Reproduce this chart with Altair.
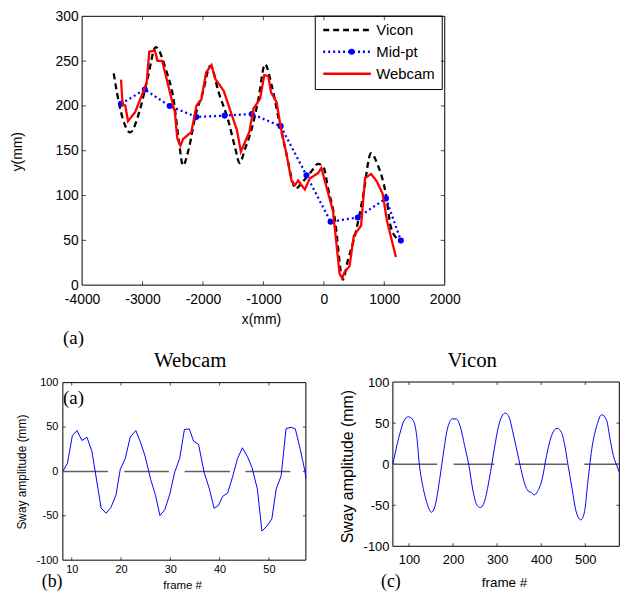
import altair as alt
import pandas as pd

# ---------------- data ----------------
SERIES = ["Vicon", "Mid-pt", "Webcam"]

VICON_X = [-3477, -3356, -3203, -3055, -2918, -2781, -2616, -2479, -2397, -2332, -2233, -2123,
           -2003, -1877, -1740, -1575, -1466, -1395, -1301, -1192, -1082, -973, -863, -726,
           -616, -534, -468, -342, -205, -96, 0, 68, 178, 315, 397, 534, 644, 781, 890,
           1027, 1110, 1219]
VICON_Y = [236.3, 193, 170.4, 193, 230, 265.7, 241, 204, 160, 133.6, 152.7, 189.5,
           215, 244.8, 215, 182, 152.7, 136.2, 152.7, 174.8, 208, 246.6, 222.7, 178.5,
           145.4, 119.6, 107.8, 116, 127, 135.4, 130.7, 108.6, 75.5, 6.3, 27.6, 60.7, 97.5, 147.2, 134.3,
           101.2, 64.4, 51.5]

MID_X = [-3356, -2962, -2551, -2112, -1641, -1192, -715, -288, 112, 562, 1027, 1274]
MID_Y = [202.4, 218.3, 199.9, 187.7, 189.2, 191.0, 177.4, 122.6, 70.7, 75.5, 96.8, 49.7]

WEBCAM_X = [-3356, -3329, -3285, -3241, -3123, -3014, -2932, -2888, -2795, -2753, -2675, -2548,
            -2466, -2425, -2373, -2329, -2192, -2107, -2027, -1948, -1860, -1795, -1658, -1521,
            -1438, -1373, -1233, -1164, -1055, -986, -918, -875, -781, -715, -616, -534,
            -479, -425, -315, -233, -96, -41, 25, 151, 260, 305, 342, 425, 496, 616,
            682, 781, 874, 973, 1044, 1192]
WEBCAM_Y = [229.3, 200.6, 200.6, 183, 193, 211.6, 226, 260.6, 261.7, 250.3, 250.3, 215.3,
            193.2, 164, 155.7, 163, 171, 200.6, 207.2, 237.4, 245.5, 230, 217, 189.5,
            173, 149, 171, 197, 208, 234.4, 233, 215.3, 204, 176.7, 145.4, 116,
            111.5, 116.7, 106.7, 119, 125, 130.7, 114, 82.8, 12.9, 7.4, 14.7, 21.3, 55.2, 66.2,
            119.6, 124, 116, 102, 71.8, 31.3]

TOP_XTICKS = [-4000, -3000, -2000, -1000, 0, 1000, 2000]
TOP_YTICKS = [0, 50, 100, 150, 200, 250, 300]

# Webcam sway (panel b)
WC_FRAME = [8.2, 9.13, 10.13, 11.07, 12.08, 13.08, 14.09, 15.96, 16.97, 17.97, 18.98, 19.85,
            20.85, 21.86, 23.0, 24.0, 24.87, 26.01, 27.02, 27.89, 28.89, 29.9, 30.9, 31.91,
            32.85, 33.85, 34.72, 35.73, 36.87, 37.94, 38.88, 39.75, 40.62, 41.63, 42.63, 43.64,
            44.64, 45.65, 46.58, 47.66, 48.59, 49.6, 50.6, 51.47, 52.48, 53.48, 54.49, 55.36,
            56.36, 57.3, 57.5]
WC_SWAY = [0.2, 9.1, 40.4, 46.0, 34.8, 38.5, 22.9, -41.2, -47.1, -40.4, -26.6, 2.4,
           14.3, 38.5, 46.0, 32.2, 17.3, -8.8, -27.4, -49.7, -43.0, -25.5, -0.6, 14.7,
           47.1, 47.9, 34.1, 30.4, -1.3, -19.9, -41.5, -38.6, -28.1, -24.4, -6.1, 14.7,
           26.6, 16.6, 4.3, -19.9, -67.2, -61.6, -53.4, -19.9, -5.0, 48.2, 49.7, 47.9,
           24.8, 0.6, -8.0]
WC_ZERO_START = [8.2, 20.65, 32.9, 45.24]
WC_ZERO_END = [17.37, 29.7, 42.1, 54.35]
WC_XTICKS = [10, 20, 30, 40, 50]
SWAY_YTICKS = [-100, -50, 0, 50, 100]

# Vicon sway (panel c)
VC_FRAME = [63.5, 76.1, 88.8, 98.6, 109.8, 117.3, 123.3, 132.3, 139.8, 151.1, 158.6, 169.8,
            177.3, 187.1, 198.3, 207.3, 216.3, 226.1, 235.8, 244.9, 253.9, 262.1, 271.1, 282.4,
            293.6, 303.4, 318.4, 327.4, 334.9, 342.4, 352.2, 361.2, 372.4, 378.4, 383.7, 391.2,
            402.5, 412.2, 425.0, 436.2, 446.0, 453.5, 461.0, 470.0, 477.5, 485.0, 490.2, 498.4,
            505.9, 514.9, 526.2, 537.4, 548.7, 556.2, 563.7, 571.2, 577.2]
VC_SWAY = [0.6, 30.8, 52.9, 57.7, 52.9, 34.8, 0.2, -29.6, -45.7, -58.6, -51.7, -17.5,
           10.7, 42.9, 55.1, 55.1, 45.7, 22.7, -1.4, -31.6, -49.7, -52.9, -45.7, -17.5,
           18.7, 46.9, 62.2, 56.9, 40.8, 22.7, -1.4, -21.5, -33.6, -34.4, -37.6, -33.6,
           -17.5, 10.7, 36.8, 43.7, 38.8, 22.7, -1.4, -29.6, -53.7, -65.8, -67.8, -57.7,
           -21.5, 18.7, 46.9, 60.2, 52.9, 30.8, 10.7, -1.4, -9.5]
VC_ZERO_START = [63.5, 201.3, 340.2, 497.7]
VC_ZERO_END = [163.9, 293.6, 458.7, 576.5]
VC_XTICKS = [100, 200, 300, 400, 500]

# ---------------- layout ----------------
W, H = 618, 586
SANS = "Liberation Sans"
SERIF = "Liberation Serif"
LABEL = "'' + datum.value"


def yaxis(vals, off, fs, pad, title, tfs, tx, ty):
    return alt.Axis(orient="left", offset=off, values=vals, domain=False, grid=False,
                    ticks=False, tickSize=0, labelExpr=LABEL, labelFont=SANS,
                    labelFontSize=fs, labelColor="black", labelPadding=pad,
                    labelOverlap=False, labelFlush=False,
                    title=title, titleFont=SANS, titleFontSize=tfs, titleFontWeight="normal",
                    titleColor="black", titleAngle=270, titleAlign="center",
                    titleBaseline="middle", titleX=tx, titleY=ty)


def xaxis(vals, off, fs, pad, title, tfs, tx, ty):
    return alt.Axis(orient="bottom", offset=off, values=vals, domain=False, grid=False,
                    ticks=False, tickSize=0, labelExpr=LABEL, labelFont=SANS,
                    labelFontSize=fs, labelColor="black", labelPadding=pad,
                    labelOverlap=False, labelFlush=False,
                    title=title, titleFont=SANS, titleFontSize=tfs, titleFontWeight="normal",
                    titleColor="black", titleAlign="center",
                    titleBaseline="middle", titleX=tx, titleY=ty)


def frame_and_ticks(xd, yd, xs, ys, xa, ya, xt, yt, L):
    fdf = pd.DataFrame({"x0": [xd[0]], "x1": [xd[1]], "y0": [yd[0]], "y1": [yd[1]]})
    frame = alt.Chart(fdf).mark_rect(fillOpacity=0, stroke="black", strokeWidth=1).encode(
        x=alt.X("x0:Q", scale=xs, axis=xa), x2="x1:Q",
        y=alt.Y("y0:Q", scale=ys, axis=ya), y2="y1:Q")
    xin = [v for v in xt if xd[0] < v < xd[1]]
    yin = [v for v in yt if yd[0] < v < yd[1]]
    layers = [frame]
    for yv, off in ((yd[0], -L / 2), (yd[1], L / 2)):
        d = pd.DataFrame({"x": xin, "y": [yv] * len(xin)})
        layers.append(alt.Chart(d).mark_tick(orient="vertical", size=L, thickness=1,
                                             color="black", yOffset=off).encode(
            x=alt.X("x:Q", scale=xs, axis=xa), y=alt.Y("y:Q", scale=ys, axis=ya)))
    for xv, off in ((xd[0], L / 2), (xd[1], -L / 2)):
        d = pd.DataFrame({"x": [xv] * len(yin), "y": yin})
        layers.append(alt.Chart(d).mark_tick(orient="horizontal", size=L, thickness=1,
                                             color="black", xOffset=off).encode(
            x=alt.X("x:Q", scale=xs, axis=xa), y=alt.Y("y:Q", scale=ys, axis=ya)))
    return layers


# ---------- panel (a) ----------
tx_dom, ty_dom = [-4000, 2000], [0, 300]
txs = alt.Scale(domain=tx_dom, range=[74.7, 440.3], nice=False, zero=False)
tys = alt.Scale(domain=ty_dom, range=[277, 6], nice=False, zero=False)
txa = xaxis(TOP_XTICKS, 277 - H, 14, 8, "x(mm)", 14, 255, 35)
tya = yaxis(TOP_YTICKS, -74.7, 14, 4, "y(mm)", 14, -65, 142)

cscale = alt.Scale(domain=SERIES, range=["black", "blue", "red"])
dscale = alt.Scale(domain=SERIES, range=[[6, 4], [2, 3], [1, 0]])
legend = alt.Legend(orient="none", legendX=309.3, legendY=5.3, title=None,
                    strokeColor="black", padding=7,
                    labelFont=SANS, labelFontSize=15, labelColor="black",
                    symbolType="stroke", symbolSize=2304, symbolStrokeWidth=2.5,
                    labelOffset=4, rowPadding=6, clipHeight=15)
dot_legend = alt.Legend(orient="none", legendX=343.0, legendY=38.2, title=None,
                        padding=0, labelExpr="''", labelFontSize=1, zindex=2,
                        symbolType="circle", symbolSize=38, symbolFillColor="blue",
                        symbolStrokeColor="blue", symbolStrokeWidth=0, symbolOpacity=1)


def series_df(xs, ys, name):
    return pd.DataFrame({"x": xs, "y": ys, "series": [name] * len(xs), "o": list(range(len(xs)))})


def top_line(df, interp, leg):
    return alt.Chart(df).mark_line(strokeWidth=2.3, interpolate=interp).encode(
        x=alt.X("x:Q", scale=txs, axis=txa), y=alt.Y("y:Q", scale=tys, axis=tya),
        order="o:Q",
        color=alt.Color("series:N", scale=cscale, legend=leg),
        strokeDash=alt.StrokeDash("series:N", scale=dscale, legend=leg))


vic_df = series_df(VICON_X, VICON_Y, "Vicon")
mid_df = series_df(MID_X, MID_Y, "Mid-pt")
web_df = series_df(WEBCAM_X, WEBCAM_Y, "Webcam")

vic_line = top_line(vic_df, "monotone", legend)
mid_line = top_line(mid_df, "linear", None)
web_line = top_line(web_df, "linear", None)
mid_pts = alt.Chart(mid_df).mark_point(filled=True, size=38, opacity=1).encode(
    x=alt.X("x:Q", scale=txs, axis=txa), y=alt.Y("y:Q", scale=tys, axis=tya),
    color=alt.Color("series:N", scale=cscale, legend=None),
    shape=alt.Shape("series:N", scale=alt.Scale(domain=["Mid-pt"], range=["circle"]),
                    legend=dot_legend))

panel_a = alt.layer(*frame_and_ticks(tx_dom, ty_dom, txs, tys, txa, tya, TOP_XTICKS, TOP_YTICKS, 4),
                    vic_line, mid_line, mid_pts, web_line)

# ---------- panel (b) ----------
bx_dom, sy_dom = [8.2, 57.5], [-100, 100]
bxs = alt.Scale(domain=bx_dom, range=[55.3, 300.3], nice=False, zero=False)
bys = alt.Scale(domain=sy_dom, range=[554.3, 375.3], nice=False, zero=False)
bxa = xaxis(WC_XTICKS, 554.3 - H, 11, 3, "frame #", 11.5, 175.5, 25.7)
bya = yaxis(SWAY_YTICKS, -55.3, 11, 5, "Sway amplitude (mm)", 12, -41.3, 465)

bzero = pd.DataFrame({"x0": WC_ZERO_START, "x1": WC_ZERO_END, "y": [0] * len(WC_ZERO_START)})
b_zero = alt.Chart(bzero).mark_rule(color="#606060", strokeWidth=1.5).encode(
    x=alt.X("x0:Q", scale=bxs, axis=bxa), x2="x1:Q", y=alt.Y("y:Q", scale=bys, axis=bya))
bdf = pd.DataFrame({"x": WC_FRAME, "y": WC_SWAY, "o": list(range(len(WC_FRAME)))})
b_line = alt.Chart(bdf).mark_line(color="blue", strokeWidth=1).encode(
    x=alt.X("x:Q", scale=bxs, axis=bxa), y=alt.Y("y:Q", scale=bys, axis=bya), order="o:Q")
panel_b = alt.layer(*frame_and_ticks(bx_dom, sy_dom, bxs, bys, bxa, bya, WC_XTICKS, SWAY_YTICKS, 3),
                    b_zero, b_line)

# ---------- panel (c) ----------
cx_dom = [63.3, 577.3]
cxs = alt.Scale(domain=cx_dom, range=[388, 616.3], nice=False, zero=False)
cys = alt.Scale(domain=sy_dom, range=[540.3, 374.7], nice=False, zero=False)
cxa = xaxis(VC_XTICKS, 540.3 - H, 13, 7, "frame #", 13.5, 500, 36.7)
cya = yaxis(SWAY_YTICKS, -388, 13, 4, "Sway amplitude (mm)", 16, -46, 459.5)

czero = pd.DataFrame({"x0": VC_ZERO_START, "x1": VC_ZERO_END, "y": [0] * len(VC_ZERO_START)})
c_zero = alt.Chart(czero).mark_rule(color="#606060", strokeWidth=1.5).encode(
    x=alt.X("x0:Q", scale=cxs, axis=cxa), x2="x1:Q", y=alt.Y("y:Q", scale=cys, axis=cya))
cdf = pd.DataFrame({"x": VC_FRAME, "y": VC_SWAY, "o": list(range(len(VC_FRAME)))})
c_line = alt.Chart(cdf).mark_line(color="blue", strokeWidth=1, interpolate="monotone").encode(
    x=alt.X("x:Q", scale=cxs, axis=cxa), y=alt.Y("y:Q", scale=cys, axis=cya), order="o:Q")
panel_c = alt.layer(*frame_and_ticks(cx_dom, sy_dom, cxs, cys, cxa, cya, VC_XTICKS, SWAY_YTICKS, 3),
                    c_zero, c_line)

# ---------- annotations ----------
dummy = pd.DataFrame({"k": [0]})


def note(text, x, y, size):
    return alt.Chart(dummy).mark_text(font=SERIF, fontSize=size, color="black",
                                      align="center", baseline="middle").encode(
        x=alt.value(x), y=alt.value(y), text=alt.value(text))


notes = [note("(a)", 66, 330, 19), note("Webcam", 183.7, 354, 21), note("(a)", 66, 391, 19),
         note("(b)", 44.5, 576, 18), note("Vicon", 468, 354, 21), note("(c)", 386, 576, 18)]

chart = alt.layer(panel_a, panel_b, panel_c, *notes).resolve_scale(
    x="independent", y="independent", color="independent", strokeDash="independent"
).resolve_axis(x="independent", y="independent").properties(
    width=W, height=H, padding=0, autosize=alt.AutoSizeParams(type="none")
).configure_view(stroke="transparent")

chart.save("out.html", embed_options={"renderer": "svg", "actions": False})
